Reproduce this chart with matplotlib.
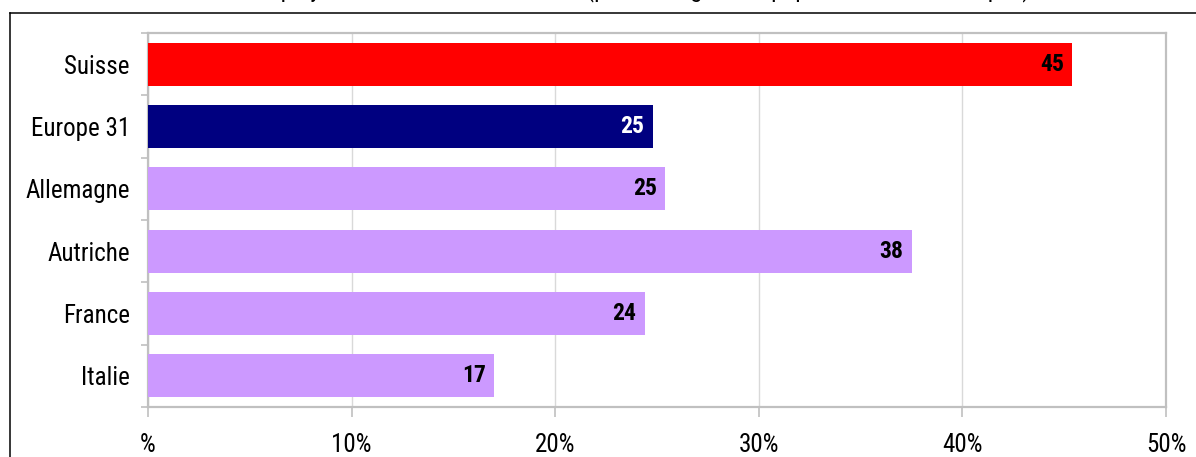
import matplotlib
matplotlib.use("Agg")
import matplotlib.pyplot as plt
from matplotlib.lines import Line2D

# Data
categories = ["Suisse", "Europe 31", "Allemagne", "Autriche", "France", "Italie"]
values = [45.4, 24.8, 25.4, 37.5, 24.4, 17.0]
bar_colors = ["#FF0000", "#000080", "#CC99FF", "#CC99FF", "#CC99FF", "#CC99FF"]
label_colors = ["black", "white", "black", "black", "black", "black"]
x_ticks = [0, 10, 20, 30, 40, 50]
x_tick_labels = ["%", "10%", "20%", "30%", "40%", "50%"]
title = ("Part des employés à horaire réduit, en 2010 "
         "(pourcentage de la population active occupée)")

FONT = ["Roboto Condensed", "Archivo Narrow", "DejaVu Sans"]
plt.rcParams["font.family"] = FONT

W, H = 1196, 457
fig = plt.figure(figsize=(W / 100, H / 100), dpi=100)

# Outer frame (top and left edges visible)
fig.add_artist(Line2D([10 / W, 1.0], [1 - 13 / H, 1 - 13 / H], color="black",
                      lw=1.1, transform=fig.transFigure))
fig.add_artist(Line2D([10 / W, 10 / W], [0, 1 - 13 / H], color="black",
                      lw=1.1, transform=fig.transFigure))

# Title sitting mostly above the top edge
fig.text(0.5, 1 + 4 / H, title, ha="center", va="baseline", fontsize=17.5,
         color="black")

ax = fig.add_axes([148 / W, 50 / H, 1018 / W, 374 / H])

ypos = list(range(len(categories)))
ax.barh(ypos, values, height=0.69, color=bar_colors, zorder=3)
ax.set_ylim(len(categories) - 0.5, -0.5)
ax.set_xlim(0, 50)

# Value labels inside bar ends
for y, v, c in zip(ypos, values, label_colors):
    ax.annotate(f"{v:.0f}", xy=(v, y), xytext=(-6, 0), textcoords="offset points",
                ha="right", va="center", fontsize=17, fontweight="bold",
                color=c, zorder=4)

# Grid and frame
ax.set_xticks(x_ticks)
ax.set_xticklabels(x_tick_labels, fontsize=18)
ax.xaxis.grid(True, color="#d9d9d9", lw=1.0, zorder=0)
ax.set_axisbelow(True)
for side in ["top", "right", "left", "bottom"]:
    ax.spines[side].set_color("#c0c0c0")
    ax.spines[side].set_linewidth(1.6)

ax.set_yticks([i + 0.5 for i in range(-1, len(categories))])
ax.set_yticklabels([])
ax.set_yticks(ypos, minor=True)
ax.set_yticklabels(categories, minor=True, fontsize=18)
ax.tick_params(axis="y", which="major", length=5, color="#c0c0c0", width=1.2)
ax.tick_params(axis="y", which="minor", length=0, pad=13)
ax.tick_params(axis="x", length=7, color="#c0c0c0", width=1.2, pad=12)

fig.savefig("out.png", dpi=100)
